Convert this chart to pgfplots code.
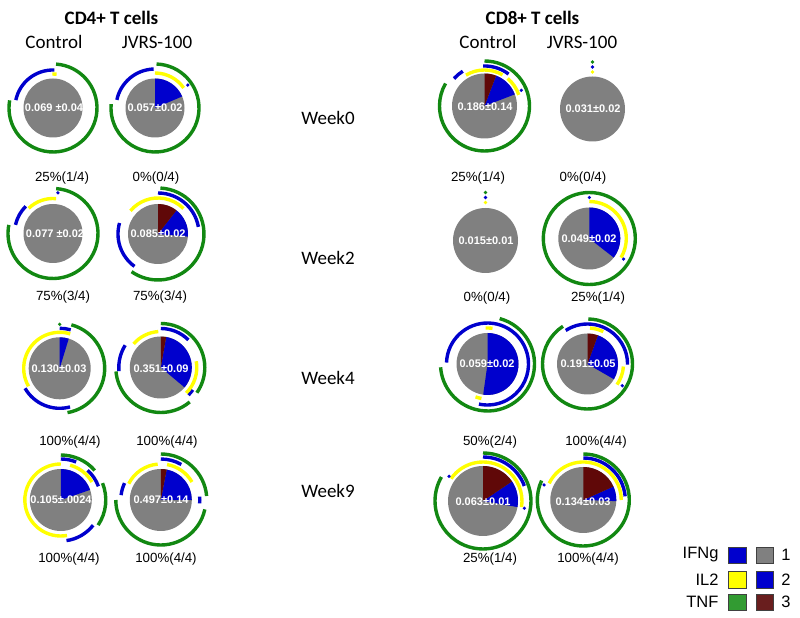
\documentclass[border=0pt]{standalone}
\usepackage{pgfplots}
\pgfplotsset{compat=1.18}
\usepackage{pgfplotstable}
\usepackage{fontspec}
\setmainfont{Carlito}
\newfontfamily\arial{Liberation Sans}
\definecolor{cblue}{RGB}{0,0,205}
\definecolor{cyel}{RGB}{255,255,0}
\definecolor{cgreen}{RGB}{18,136,18}
\definecolor{cgray}{RGB}{128,128,128}
\definecolor{cmar}{RGB}{96,8,8}
\definecolor{lgreen}{RGB}{50,155,50}
\definecolor{lmar}{RGB}{105,30,30}

% custom marks: drawn at the pie centre, geometry from per-point values
\pgfdeclareplotmark{sectormark}{%
  \pgfmathsetmacro\myTa{90-\myA}\pgfmathsetmacro\myTb{90-\myB}%
  \pgfpathmoveto{\pgfpointorigin}%
  \pgfpathlineto{\pgfpointpolar{\myTa}{\myR pt}}%
  \pgfpatharc{\myTa}{\myTb}{\myR pt}%
  \pgfpathclose\pgfusepathqfill}
\pgfdeclareplotmark{arcmark}{%
  \pgfmathsetmacro\myTa{90-\myA}\pgfmathsetmacro\myTb{90-\myB}%
  \pgfpathmoveto{\pgfpointpolar{\myTa}{\myR pt}}%
  \pgfpatharc{\myTa}{\myTb}{\myR pt}%
  \pgfusepathqstroke}
\pgfdeclareplotmark{dotmark}{%
  \pgfmathsetmacro\myTa{90-\myA}%
  \pgfpathcircle{\pgfpointpolar{\myTa}{\myR pt}}{1.8pt}%
  \pgfusepathqfill}

\pgfplotsset{
  piegeom/.style={scatter, only marks,
    scatter/@pre marker code/.code={}, scatter/@post marker code/.code={},
    visualization depends on={\thisrow{c1}\as\myA},
    visualization depends on={\thisrow{c2}\as\myB},
    visualization depends on={\thisrow{r}\as\myR}},
  sector/.style={piegeom, mark=sectormark, mark options={fill=#1, draw=none}},
  ring/.style={piegeom, mark=arcmark, mark options={draw=#1, line width=3.4pt, line cap=butt}},
  dots/.style={piegeom, mark=dotmark, mark options={fill=#1, draw=none}},
}

% pie centres (px), disk
\pgfplotstableread{
x y c1 c2 r
53 108 0 360 29.5
155 108 0 360 29.5
484.5 106 0 360 32.5
592.5 109 0 360 32.5
53 233.5 0 360 29.5
158 234 0 360 30
485.5 240.5 0 360 32.5
589.3 238.5 0 360 31
59.7 368.3 0 360 31
160.8 367.5 0 360 31
487.5 364 0 360 31
587.5 364 0 360 30.5
60.8 500 0 360 31
160.8 500 0 360 31
483 501 0 360 35
583.3 500 0 360 33
}\graydisks

\pgfplotstableread{
x y c1 c2 r
155 108 0 67 29.5
484.5 106 21 69 32.5
158 234 38 95 30
589.3 238.5 0 128 31
59.7 368.3 0 17 31
160.8 367.5 10 130 31
487.5 364 0 188 31
587.5 364 20 120 30.5
60.8 500 0 71 31
160.8 500 11 90 31
483 501 56 100 35
583.3 500 66 92 33
}\bluesectors

\pgfplotstableread{
x y c1 c2 r
484.5 106 0 21 32.5
158 234 0 38 30
160.8 367.5 0 10 31
587.5 364 0 20 30.5
160.8 500 0 11 31
483 501 0 56 35
583.3 500 0 66 33
}\marsectors

\pgfplotstableread{
x y c1 c2 r
53 108 4 280 44
155 108 2 275 44
484.5 106 0 300 45
53 233.5 4 281 45
158 234 3 215 46
589.3 238.5 0 360 46
59.7 368.3 15 170 45
160.8 367.5 0 125 44
160.8 367.5 140 265 45
487.5 364 15 266 47
587.5 364 1 327 45
60.8 500 0 49 45
60.8 500 68 124 45
160.8 500 0 85 46
160.8 500 102 270 45
483 501 0 300 48
583.3 500 0 295 46
}\greenarcs

\pgfplotstableread{
x y c1 c2 r
53 108 -78 2 38
155 108 -78 -2 39
484.5 106 -48 -32 41
484.5 106 -2 37 40
53 233.5 -77 -45 38.5
158 234 216 286 40
158 234 0 80 41
59.7 368.3 0 16 40
59.7 368.3 165 240 40
160.8 367.5 0 45 39
160.8 367.5 -95 -58 42
160.8 367.5 125 135 39
487.5 364 -88 192 41
587.5 364 -33 91 40
60.8 500 0 22 41
60.8 500 42 70 40
60.8 500 128 172 41
160.8 500 0 30 41
160.8 500 85 95 39
160.8 500 -83 -65 40
483 501 0 70 44
583.3 500 0 85 42
}\bluearcs

\pgfplotstableread{
x y c1 c2 r
53 108 -1 6 34
155 108 0 55 35
484.5 106 -31 30 36
484.5 106 40 72 36
53 233.5 -44 5 35
158 234 -50 45 36
589.3 238.5 0 121 37
59.7 368.3 -120 17 36
160.8 367.5 -49 -4 36
160.8 367.5 80 135 36
487.5 364 -3 8 36
487.5 364 190 200 35
587.5 364 4 26 36
587.5 364 94 125 36
60.8 500 170 360 36
60.8 500 15 60 36
160.8 500 -63 -5 36
160.8 500 10 60 36
483 501 -55 99 39
583.3 500 -64 90 38
}\yelarcs

\pgfplotstableread{
x y c1 c2 r
155 108 55 0 40
484.5 106 67 0 40
592.5 109 0 0 42
53 233.5 7 0 41
485.5 240.5 0 0 43
589.3 238.5 0 0 41
589.3 238.5 121 0 40
587.5 364 122 0 41
483 501 -54 0 42
483 501 100 0 42
583.3 500 -69 0 42
}\bluedots

\pgfplotstableread{
x y c1 c2 r
592.5 109 0 0 47
485.5 240.5 0 0 48
59.7 368.3 0 0 44
}\greendots

\pgfplotstableread{
x y c1 c2 r
592.5 109 0 0 37
485.5 240.5 0 0 38
}\yeldots

\begin{document}
\begin{tikzpicture}
\begin{axis}[at={(0,0)}, anchor=south west, scale only axis,
  width=800pt, height=618pt, xmin=0, xmax=800, ymin=0, ymax=618,
  y dir=reverse, hide axis, clip=false, set layers]

\addplot[sector=cgray] table[x=x,y=y] {\graydisks};
\addplot[sector=cblue] table[x=x,y=y] {\bluesectors};
\addplot[sector=cmar] table[x=x,y=y] {\marsectors};
\addplot[ring=cgreen] table[x=x,y=y] {\greenarcs};
\addplot[ring=cblue] table[x=x,y=y] {\bluearcs};
\addplot[ring=cyel] table[x=x,y=y] {\yelarcs};
\addplot[dots=cblue] table[x=x,y=y] {\bluedots};
\addplot[dots=cgreen] table[x=x,y=y] {\greendots};
\addplot[dots=cyel] table[x=x,y=y] {\yeldots};

% legend squares
\addplot[fill=cblue, draw=black!75, line width=0.8pt] coordinates {(728,547) (746.5,547) (746.5,563.5) (728,563.5)} --cycle;
\addplot[fill=cgray, draw=black!75, line width=0.8pt] coordinates {(756,547) (773.5,547) (773.5,563.5) (756,563.5)} --cycle;
\addplot[fill=cyel, draw=black!75, line width=0.8pt] coordinates {(728,571.5) (746.5,571.5) (746.5,588) (728,588)} --cycle;
\addplot[fill=cblue, draw=black!75, line width=0.8pt] coordinates {(756,571.5) (773.5,571.5) (773.5,588) (756,588)} --cycle;
\addplot[fill=lgreen, draw=black!75, line width=0.8pt] coordinates {(728,594) (746.5,594) (746.5,610.5) (728,610.5)} --cycle;
\addplot[fill=lmar, draw=black!75, line width=0.8pt] coordinates {(756,594) (773.5,594) (773.5,610.5) (756,610.5)} --cycle;

% titles
\node[font=\fontsize{19}{22}\selectfont\bfseries] at (axis cs:111.5,18) {CD4+ T cells};
\node[font=\fontsize{19}{22}\selectfont\bfseries] at (axis cs:532.5,18) {CD8+ T cells};
\node[font=\fontsize{19}{22}\selectfont] at (axis cs:54,42) {Control};
\node[font=\fontsize{19}{22}\selectfont] at (axis cs:157,42) {JVRS-100};
\node[font=\fontsize{19}{22}\selectfont] at (axis cs:488,42) {Control};
\node[font=\fontsize{19}{22}\selectfont] at (axis cs:582,42) {JVRS-100};

% week labels
\node[font=\fontsize{19}{22}\selectfont] at (axis cs:328,118) {Week0};
\node[font=\fontsize{19}{22}\selectfont] at (axis cs:328,258) {Week2};
\node[font=\fontsize{19}{22}\selectfont] at (axis cs:328,378) {Week4};
\node[font=\fontsize{19}{22}\selectfont] at (axis cs:328,491) {Week9};

% pie values (on top of the pies)
\begin{pgfonlayer}{axis foreground}
\begin{scope}[every node/.style={font=\arial\bfseries\fontsize{11}{12}\selectfont, text=white}]
\node at (axis cs:54,108) {0.069 ±0.04};
\node at (axis cs:155,108) {0.057±0.02};
\node at (axis cs:485,107) {0.186±0.14};
\node at (axis cs:593,109) {0.031±0.02};
\node at (axis cs:55,234) {0.077 ±0.02};
\node at (axis cs:158,234) {0.085±0.02};
\node at (axis cs:486,241) {0.015±0.01};
\node at (axis cs:589,239) {0.049±0.02};
\node at (axis cs:59,369) {0.130±0.03};
\node at (axis cs:161,369) {0.351±0.09};
\node at (axis cs:487,364) {0.059±0.02};
\node at (axis cs:588,364) {0.191±0.05};
\node at (axis cs:61,500) {0.105±.0024};
\node at (axis cs:161,500) {0.497±0.14};
\node at (axis cs:483,502) {0.063±0.01};
\node at (axis cs:583,502) {0.134±0.03};
\end{scope}
\end{pgfonlayer}

% percent labels
\begin{scope}[every node/.style={font=\arial\fontsize{13.3}{15}\selectfont}]
\node at (axis cs:62,178) {25\%(1/4)};
\node at (axis cs:156,178) {0\%(0/4)};
\node at (axis cs:478,178) {25\%(1/4)};
\node at (axis cs:583,178) {0\%(0/4)};
\node at (axis cs:63,297) {75\%(3/4)};
\node at (axis cs:160,297) {75\%(3/4)};
\node at (axis cs:487,298) {0\%(0/4)};
\node at (axis cs:598,298) {25\%(1/4)};
\node at (axis cs:70,442) {100\%(4/4)};
\node at (axis cs:167,442) {100\%(4/4)};
\node at (axis cs:490,442) {50\%(2/4)};
\node at (axis cs:596,442) {100\%(4/4)};
\node at (axis cs:69,559) {100\%(4/4)};
\node at (axis cs:166,559) {100\%(4/4)};
\node at (axis cs:490,559) {25\%(1/4)};
\node at (axis cs:588,559) {100\%(4/4)};
\end{scope}

% legend text
\begin{scope}[every node/.style={font=\arial\fontsize{16.5}{18}\selectfont}]
\node[anchor=east] at (axis cs:722,555) {IFNg};
\node[anchor=east] at (axis cs:722,580) {IL2};
\node[anchor=east] at (axis cs:722,602) {TNF};
\node at (axis cs:786,555) {1};
\node at (axis cs:786,580) {2};
\node at (axis cs:786,602) {3};
\end{scope}
\end{axis}
\pgfresetboundingbox
\path (0,0) rectangle (800pt,618pt);
\end{tikzpicture}
\end{document}
